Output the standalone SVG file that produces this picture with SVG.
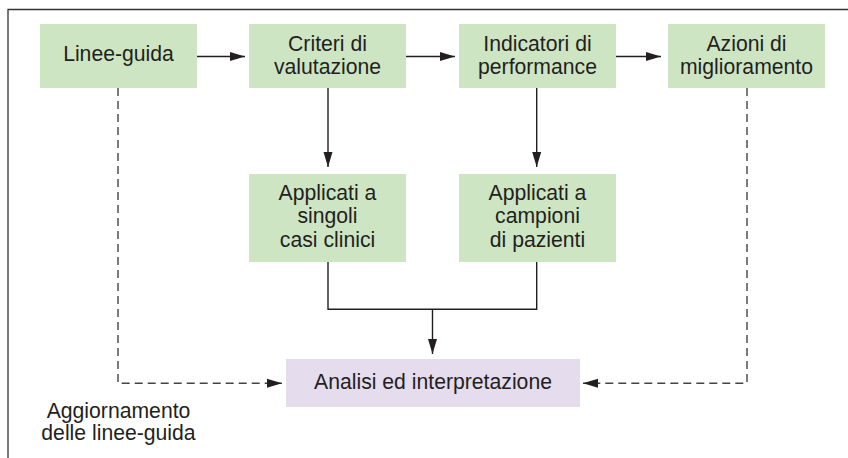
<svg xmlns="http://www.w3.org/2000/svg" width="848" height="458" viewBox="0 0 848 458">
<style>
.g{fill:#cee5c4}
.p{fill:#e5dcee}
text{font-family:"Liberation Sans",Arial,sans-serif;font-size:21.2px;fill:#231f20;text-anchor:middle}
.c{fill:none;stroke:#231f20;stroke-width:1.4}
.d{fill:none;stroke:#444;stroke-width:1.4;stroke-dasharray:8 5}
</style>
<defs>
<marker id="a" markerUnits="userSpaceOnUse" markerWidth="16" markerHeight="10" refX="15" refY="5" orient="auto">
<path d="M0,0.5 L15,5 L0,9.5 Z" fill="#231f20"/>
</marker>
</defs>
<rect width="848" height="458" fill="#fff"/>
<path d="M8,458 V9.5 H848" fill="none" stroke="#333" stroke-width="1.3"/>
<g id="n1"><rect class="g" x="40" y="24" width="157" height="64"/><text x="118.5" y="61">Linee-guida</text></g>
<g id="n2"><rect class="g" x="249" y="24" width="157" height="64"/><text x="327.5" y="51">Criteri di</text><text x="327.5" y="73.5">valutazione</text></g>
<g id="n3"><rect class="g" x="459" y="24" width="157" height="64"/><text x="537.5" y="51">Indicatori di</text><text x="537.5" y="73.5">performance</text></g>
<g id="n4"><rect class="g" x="668" y="24" width="157" height="64"/><text x="746.5" y="51">Azioni di</text><text x="746.5" y="73.5">miglioramento</text></g>
<g id="n5"><rect class="g" x="249" y="174" width="157" height="88"/><text x="327.5" y="199.5">Applicati a</text><text x="327.5" y="223">singoli</text><text x="327.5" y="246.5">casi clinici</text></g>
<g id="n6"><rect class="g" x="459" y="174" width="157" height="88"/><text x="537.5" y="199.5">Applicati a</text><text x="537.5" y="223">campioni</text><text x="537.5" y="246.5">di pazienti</text></g>
<g id="n7"><rect class="p" x="286" y="359" width="294" height="48"/><text x="433" y="388.5">Analisi ed interpretazione</text></g>
<g id="lbl"><text x="118.5" y="418">Aggiornamento</text><text x="118.5" y="439.5">delle linee-guida</text></g>
<g id="connectors">
<path class="c" d="M197,56.5 H245" marker-end="url(#a)"/>
<path class="c" d="M406,56.5 H455" marker-end="url(#a)"/>
<path class="c" d="M616,56.5 H661" marker-end="url(#a)"/>
<path class="c" d="M328,88 V167" marker-end="url(#a)"/>
<path class="c" d="M536.7,88 V167" marker-end="url(#a)"/>
<path class="c" d="M328,262 V309.3 H536.7 V262"/>
<path class="c" d="M432.5,309.3 V354" marker-end="url(#a)"/>
<path class="d" d="M118,88 V383.3 H282" marker-end="url(#a)"/>
<path class="d" d="M747,88 V383.3 H583" marker-end="url(#a)"/>
</g>
</svg>
